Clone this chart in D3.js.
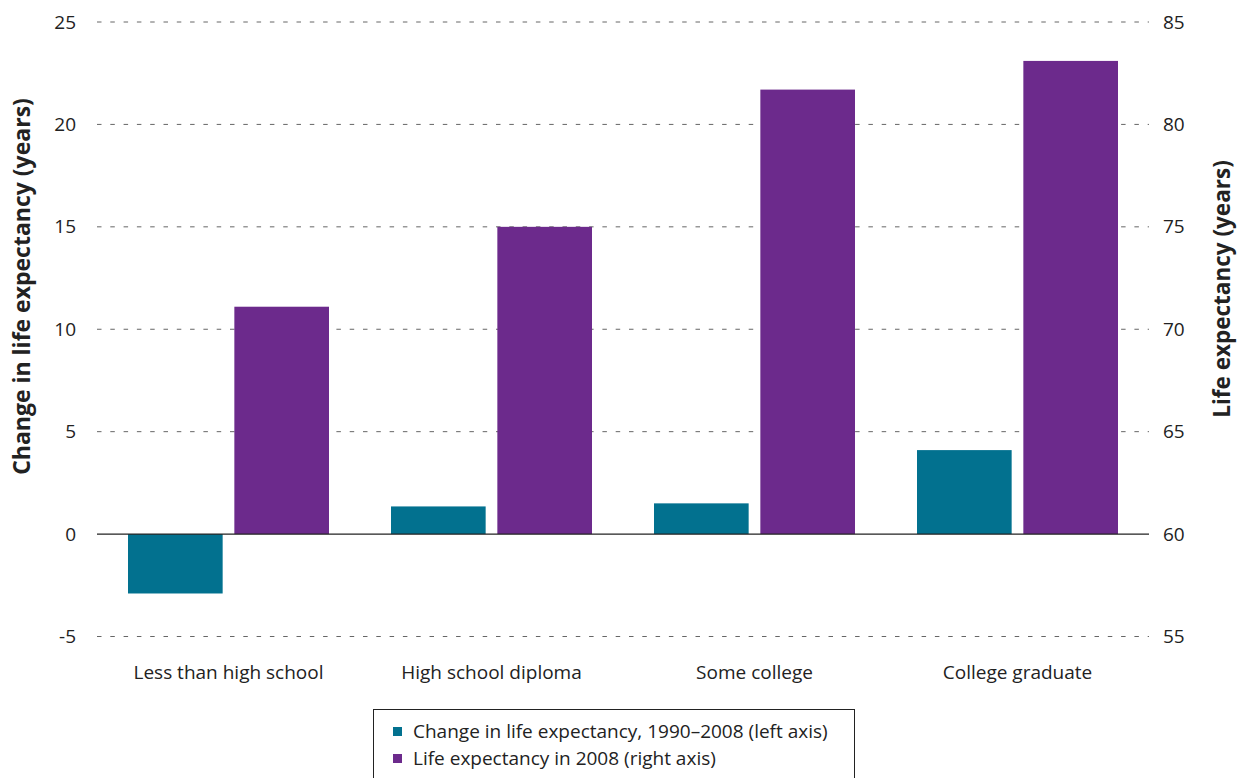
<!DOCTYPE html>
<html><head><meta charset="utf-8">
<script src="https://cdn.jsdelivr.net/npm/d3@7"></script>
<style>body{margin:0;background:#fff;} text{font-family:"Open Sans","Noto Sans",sans-serif;fill:#222;}</style>
</head><body>
<svg id="c" width="1243" height="778"></svg>
<script>
const categories = ["Less than high school","High school diploma","Some college","College graduate"];
const changeValues = [-2.9, 1.35, 1.5, 4.1];
const lifeExp2008 = [71.1, 75.0, 81.7, 83.1];
const leftTicks = [-5,0,5,10,15,20,25];
const rightTicks = [55,60,65,70,75,80,85];
const seriesNames = ["Change in life expectancy, 1990\u20132008 (left axis)","Life expectancy in 2008 (right axis)"];
const colors = ["#02718f","#6c2a8c"];

const svg = d3.select("#c");
const L = 97, R = 1149, T = 22, B = 636.5;
const x = d3.scaleBand().domain(categories).range([L,R]).paddingInner(0).paddingOuter(0);
const yL = d3.scaleLinear().domain([-5,25]).range([B,T]);
const yR = d3.scaleLinear().domain([55,85]).range([B,T]);
const sub = d3.scaleBand().domain([0,1]).range([31, x.bandwidth()-31]).paddingInner(0.11);
const fs = 19;

// gridlines
svg.append("g").selectAll("line").data(leftTicks.filter(d=>d!==0)).join("line")
  .attr("x1",L).attr("x2",R).attr("y1",d=>yL(d)).attr("y2",d=>yL(d))
  .attr("stroke","#666").attr("stroke-width",1).attr("stroke-dasharray","4.5,8.8");

// bars
const g = svg.append("g");
g.selectAll("rect.a").data(categories).join("rect").attr("class","a")
  .attr("x",(d)=>x(d)+sub(0)).attr("width",sub.bandwidth())
  .attr("y",(d,i)=>Math.min(yL(changeValues[i]),yL(0)))
  .attr("height",(d,i)=>Math.abs(yL(changeValues[i])-yL(0)))
  .attr("fill",colors[0]);
g.selectAll("rect.b").data(categories).join("rect").attr("class","b")
  .attr("x",(d)=>x(d)+sub(1)).attr("width",sub.bandwidth())
  .attr("y",(d,i)=>yR(lifeExp2008[i]))
  .attr("height",(d,i)=>yR(60)-yR(lifeExp2008[i]))
  .attr("fill",colors[1]);

// zero line
svg.append("line").attr("x1",L).attr("x2",R).attr("y1",yL(0)).attr("y2",yL(0))
  .attr("stroke","#222").attr("stroke-width",1.3);

// left axis
const la = svg.append("g").attr("transform",`translate(${L},0)`)
  .call(d3.axisLeft(yL).tickValues(leftTicks).tickFormat(d=>String(d)).tickSize(0).tickPadding(21));
la.select(".domain").remove();
la.selectAll("text").attr("font-size",fs).attr("font-family","'Open Sans',sans-serif").attr("fill","#222");

// right axis
const ra = svg.append("g").attr("transform",`translate(${R},0)`)
  .call(d3.axisRight(yR).tickValues(rightTicks).tickFormat(d=>String(d)).tickSize(0).tickPadding(14));
ra.select(".domain").remove();
ra.selectAll("text").attr("font-size",fs).attr("font-family","'Open Sans',sans-serif").attr("fill","#222");

// x axis labels
const xa = svg.append("g").attr("transform",`translate(0,${B})`)
  .call(d3.axisBottom(x).tickSize(0).tickPadding(29));
xa.select(".domain").remove();
xa.selectAll("text").attr("font-size",fs).attr("font-family","'Open Sans',sans-serif").attr("fill","#222");

// axis titles
svg.append("text").attr("transform",`translate(30,286.5) rotate(-90)`)
  .attr("text-anchor","middle").attr("font-size",23).attr("font-weight","bold")
  .text("Change in life expectancy (years)");
svg.append("text").attr("transform",`translate(1230,289) rotate(-90)`)
  .attr("text-anchor","middle").attr("font-size",22.5).attr("font-weight","bold")
  .text("Life expectancy (years)");

// legend
const lg = svg.append("g");
lg.append("rect").attr("x",373.5).attr("y",709.5).attr("width",481).attr("height",80)
  .attr("fill","none").attr("stroke","#222").attr("stroke-width",1);
seriesNames.forEach((s,i)=>{
  lg.append("rect").attr("x",393).attr("y",727+i*27).attr("width",9).attr("height",9).attr("fill",colors[i]);
  lg.append("text").attr("x",413).attr("y",738+i*27).attr("font-size",fs).text(s);
});
</script>
</body></html>
